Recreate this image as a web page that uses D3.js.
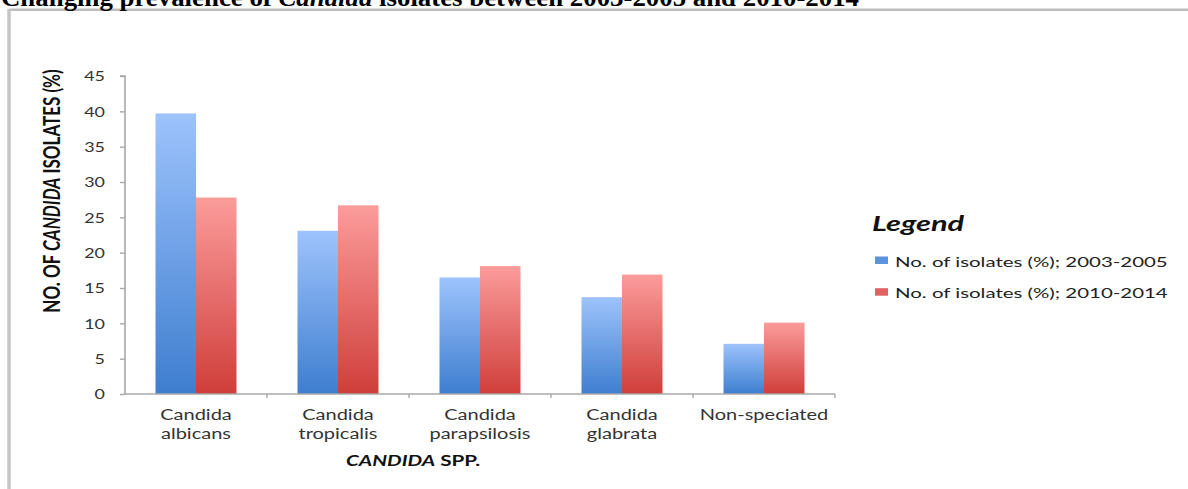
<!DOCTYPE html>
<html>
<head>
<meta charset="utf-8">
<script src="https://cdn.jsdelivr.net/npm/d3@7"></script>
<style>
  html, body { margin: 0; padding: 0; background: #fff; }
  svg { display: block; }
</style>
</head>
<body>
<svg id="chart" width="1188" height="489"></svg>
<script>
// ---- data ----
const categories = [
  ["Candida", "albicans"],
  ["Candida", "tropicalis"],
  ["Candida", "parapsilosis"],
  ["Candida", "glabrata"],
  ["Non-speciated"]
];
const seriesNames = ["No. of isolates (%); 2003-2005", "No. of isolates (%); 2010-2014"];
const values2003_2005 = [39.7, 23.1, 16.5, 13.7, 7.1];
const values2010_2014 = [27.8, 26.7, 18.1, 16.9, 10.1];
const yTicks = [0, 5, 10, 15, 20, 25, 30, 35, 40, 45];

const seriesValues = [values2003_2005, values2010_2014];
const catKeys = categories.map(c => c.join(" "));

const svg = d3.select("#chart");
const font = "Lato, 'Open Sans', sans-serif";
const SX = 1.38; // horizontal stretch of the original picture

// frame
svg.append("line").attr("x1", 9).attr("x2", 1188).attr("y1", 9.8).attr("y2", 9.8)
  .attr("stroke", "#bdbdbd").attr("stroke-width", 2.5);
svg.append("line").attr("x1", 9).attr("x2", 9).attr("y1", 9).attr("y2", 489)
  .attr("stroke", "#c6c6c6").attr("stroke-width", 3.5);

// title (clipped by the top of the page, as in the original)
const title = svg.append("text")
  .attr("x", 1).attr("y", 5.5)
  .attr("textLength", 858).attr("lengthAdjust", "spacingAndGlyphs")
  .attr("font-family", "'Liberation Serif', 'Times New Roman', serif")
  .attr("font-weight", "bold").attr("font-size", 25).attr("fill", "#000");
title.append("tspan").text("Changing prevalence of ");
title.append("tspan").attr("font-style", "italic").text("Candida");
title.append("tspan").text(" isolates between 2003-2005 and 2010-2014");

// gradients
const defs = svg.append("defs");
const grads = [
  { id: "gBlue", top: "#9dc3fc", bottom: "#3e7ecf" },
  { id: "gRed", top: "#fb9c9b", bottom: "#cf3e3a" }
];
grads.forEach(g => {
  const lg = defs.append("linearGradient").attr("id", g.id)
    .attr("x1", 0).attr("y1", 0).attr("x2", 0).attr("y2", 1);
  lg.append("stop").attr("offset", "0%").attr("stop-color", g.top);
  lg.append("stop").attr("offset", "100%").attr("stop-color", g.bottom);
});

// scales
const x0 = d3.scaleBand().domain(catKeys).range([125, 835]).padding(0);
const x1 = d3.scaleBand().domain(d3.range(seriesNames.length))
  .range([30.5, x0.bandwidth() - 30.5]).padding(0);
const y = d3.scaleLinear().domain([0, 45]).range([394, 76]);

// bars
const groups = svg.append("g").selectAll("g").data(catKeys).join("g")
  .attr("transform", d => `translate(${x0(d)},0)`);
groups.selectAll("rect")
  .data((d, i) => seriesValues.map((vals, s) => ({ s, v: vals[i] })))
  .join("rect")
  .attr("x", d => x1(d.s))
  .attr("width", x1.bandwidth())
  .attr("y", d => y(d.v))
  .attr("height", d => y(0) - y(d.v))
  .attr("fill", d => `url(#${grads[d.s].id})`);

// y axis
const yAxis = svg.append("g").attr("transform", "translate(125,0)")
  .call(d3.axisLeft(y).tickValues(yTicks).tickSize(5).tickPadding(0).tickFormat(d3.format("d")));
yAxis.select(".domain").attr("stroke", "#a8a8a8").attr("stroke-width", 1.6)
  .attr("d", `M-5,${y(45)}H0V${y(0)}`);
yAxis.selectAll(".tick line").attr("stroke", "#a8a8a8").attr("stroke-width", 1.4);
yAxis.selectAll(".tick text")
  .attr("font-family", font).attr("font-size", 13).attr("fill", "#333")
  .attr("x", 0).attr("dy", "0.36em")
  .attr("text-anchor", "end")
  .attr("transform", `translate(-20,0) scale(${SX},1)`);

// x axis
const xAxis = svg.append("g").attr("transform", `translate(0,${y(0)})`)
  .call(d3.axisBottom(x0).tickSize(0).tickFormat(""));
xAxis.select(".domain").attr("stroke", "#a8a8a8").attr("stroke-width", 1.6)
  .attr("d", `M125,0H835`);
xAxis.selectAll(".tick").remove();
const bounds = catKeys.map(k => x0(k) + x0.bandwidth());
xAxis.selectAll(".btick").data(bounds).join("line")
  .attr("x1", d => d).attr("x2", d => d).attr("y1", 0).attr("y2", 4)
  .attr("stroke", "#a8a8a8").attr("stroke-width", 1.4);

// category labels
const catLabels = svg.append("g").selectAll("text").data(categories).join("text")
  .attr("transform", (d, i) => `translate(${x0(catKeys[i]) + x0.bandwidth() / 2},420) scale(${SX},1)`)
  .attr("text-anchor", "middle")
  .attr("font-family", font).attr("font-size", 14.5).attr("fill", "#333");
catLabels.selectAll("tspan").data(d => d).join("tspan")
  .attr("x", 0).attr("dy", (d, i) => i === 0 ? 0 : 19.5).text(d => d);

// x axis title
const xt = svg.append("text")
  .attr("transform", `translate(413,466) scale(${SX},1)`)
  .attr("text-anchor", "middle")
  .attr("font-family", font).attr("font-size", 15).attr("font-weight", "bold").attr("fill", "#111");
xt.append("tspan").attr("font-style", "italic").text("CANDIDA");
xt.append("tspan").text(" SPP.");

// y axis title
const yt = svg.append("text")
  .attr("transform", `translate(60,191) scale(${SX},1) rotate(-90)`)
  .attr("text-anchor", "middle")
  .attr("font-family", font).attr("font-size", 17).attr("font-weight", "bold").attr("fill", "#111");
yt.append("tspan").text("NO. OF ");
yt.append("tspan").attr("font-style", "italic").text("CANDIDA");
yt.append("tspan").text(" ISOLATES (%)");

// legend
const legend = svg.append("g");
legend.append("text")
  .attr("transform", `translate(872,231) scale(1.5,1)`)
  .attr("font-family", font).attr("font-size", 20.5).attr("font-weight", "bold")
  .attr("font-style", "italic").attr("fill", "#111").text("Legend");
const items = legend.selectAll("g.item").data(seriesNames).join("g")
  .attr("class", "item")
  .attr("transform", (d, i) => `translate(875,${256.5 + i * 31.7})`);
items.append("rect").attr("width", 13).attr("height", 7.5)
  .attr("fill", (d, i) => i === 0 ? "#5c93e0" : "#e26262");
items.append("text")
  .attr("transform", `translate(20,10) scale(1.46,1)`)
  .attr("font-family", font).attr("font-size", 14).attr("fill", "#222")
  .text(d => d);
</script>
</body>
</html>
